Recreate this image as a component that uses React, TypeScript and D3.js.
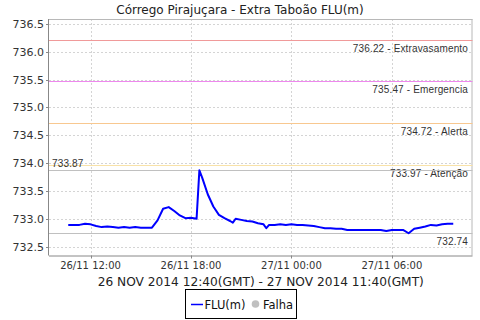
import React from "react";
import * as d3 from "d3";

const title = "Córrego Pirajuçara - Extra Taboão FLU(m)";
const xAxisTitle = "26 NOV 2014 12:40(GMT) - 27 NOV 2014 11:40(GMT)";

const times = [
  "2014-11-26T10:40", "2014-11-26T11:00", "2014-11-26T11:20", "2014-11-26T11:40",
  "2014-11-26T12:00", "2014-11-26T12:20", "2014-11-26T12:40", "2014-11-26T13:00",
  "2014-11-26T13:20", "2014-11-26T13:40", "2014-11-26T14:00", "2014-11-26T14:20",
  "2014-11-26T14:40", "2014-11-26T15:00", "2014-11-26T15:20", "2014-11-26T15:40",
  "2014-11-26T16:00", "2014-11-26T16:20", "2014-11-26T16:40", "2014-11-26T17:00",
  "2014-11-26T17:20", "2014-11-26T17:40", "2014-11-26T18:00", "2014-11-26T18:20",
  "2014-11-26T18:30", "2014-11-26T18:40", "2014-11-26T19:00", "2014-11-26T19:20",
  "2014-11-26T19:40", "2014-11-26T20:00", "2014-11-26T20:20", "2014-11-26T20:30",
  "2014-11-26T20:40", "2014-11-26T21:00", "2014-11-26T21:20", "2014-11-26T21:40",
  "2014-11-26T22:00", "2014-11-26T22:20", "2014-11-26T22:30", "2014-11-26T22:40",
  "2014-11-26T23:00", "2014-11-26T23:20", "2014-11-26T23:40", "2014-11-27T00:00",
  "2014-11-27T00:20", "2014-11-27T00:40", "2014-11-27T01:00", "2014-11-27T01:20",
  "2014-11-27T01:40", "2014-11-27T02:00", "2014-11-27T02:20", "2014-11-27T02:40",
  "2014-11-27T03:00", "2014-11-27T03:20", "2014-11-27T03:40", "2014-11-27T04:00",
  "2014-11-27T04:20", "2014-11-27T04:40", "2014-11-27T05:00", "2014-11-27T05:20",
  "2014-11-27T05:40", "2014-11-27T06:00", "2014-11-27T06:20", "2014-11-27T06:40",
  "2014-11-27T07:00", "2014-11-27T07:20", "2014-11-27T07:40", "2014-11-27T08:00",
  "2014-11-27T08:20", "2014-11-27T08:40", "2014-11-27T09:00", "2014-11-27T09:20",
  "2014-11-27T09:40",
];

const levels = [
  732.89, 732.89, 732.89, 732.91,
  732.90, 732.87, 732.85, 732.86,
  732.85, 732.84, 732.85, 732.84,
  732.85, 732.84, 732.84, 732.84,
  732.97, 733.18, 733.21, 733.14,
  733.06, 733.01, 733.02, 733.00,
  733.87, 733.74, 733.44, 733.22,
  733.07, 733.01, 732.96, 732.93,
  733.00, 732.98, 732.96, 732.95,
  732.92, 732.90, 732.83, 732.89,
  732.89, 732.90, 732.89, 732.90,
  732.89, 732.89, 732.88, 732.87,
  732.85, 732.83, 732.83, 732.82,
  732.82, 732.80, 732.80, 732.80,
  732.80, 732.80, 732.80, 732.80,
  732.78, 732.80, 732.80, 732.80,
  732.74, 732.82, 732.84, 732.86,
  732.89, 732.88, 732.90, 732.91,
  732.91,
];

const thresholdValues = [736.22, 735.47, 734.72, 733.97];
const thresholdNames = ["Extravasamento", "Emergencia", "Alerta", "Atenção"];
const thresholdColors = ["#f09a9a", "#ee88ee", "#f8c890", "#f8e2a8"];

const maxValue = 733.87;
const minValue = 732.74;

const yTicks = [732.5, 733.0, 733.5, 734.0, 734.5, 735.0, 735.5, 736.0, 736.5];
const xTickTimes = ["2014-11-26T12:00", "2014-11-26T18:00", "2014-11-27T00:00", "2014-11-27T06:00"];

const legendLabels = ["FLU(m)", "Falha"];

const W = 480;
const H = 320;
const plotLeft = 49;
const plotRight = 472.5;
const plotTop = 19;
const plotBottom = 255.5;
const FONT = "'DejaVu Sans', sans-serif";
const SMALL = "'Liberation Sans', sans-serif";

export default function App() {
  const parse = d3.utcParse("%Y-%m-%dT%H:%M");
  const data = times.map((t, i) => ({ t: parse(t) as Date, v: levels[i] }));
  const ext = d3.extent(data, (d) => d.t) as [Date, Date];
  const span = +ext[1] - +ext[0];
  const x = d3
    .scaleUtc()
    .domain([new Date(+ext[0] - span * 0.05), new Date(+ext[1] + span * 0.05)])
    .range([plotLeft, plotRight]);
  const y = d3.scaleLinear().domain([732.34, 736.59]).range([plotBottom, plotTop]);

  const line = d3
    .line<{ t: Date; v: number }>()
    .x((d) => x(d.t))
    .y((d) => y(d.v));

  const fmt = d3.utcFormat("%d/%m %H:%M");
  const xt = xTickTimes.map((s) => parse(s) as Date);
  const py = (v: number) => Math.round(y(v)) + 0.5;

  return (
    <svg
      width={W}
      height={H}
      style={{ position: "absolute", left: 0, top: 0, background: "#fff" }}
      fontFamily={FONT}
    >
      <rect x={0} y={0} width={W} height={H} fill="#fff" />
      <text x={240} y={14} textAnchor="middle" fontSize={12} fill="#222">
        {title}
      </text>

      {/* grid */}
      {yTicks.map((t) => (
        <line key={"gy" + t} x1={plotLeft} x2={plotRight} y1={py(t)} y2={py(t)} stroke="#d4d4d4" strokeDasharray="2,2" />
      ))}
      {xt.map((t, i) => (
        <line
          key={"gx" + i}
          x1={Math.round(x(t)) + 0.5}
          x2={Math.round(x(t)) + 0.5}
          y1={plotTop}
          y2={plotBottom}
          stroke="#d4d4d4"
          strokeDasharray="2,2"
        />
      ))}

      {/* plot border */}
      <line x1={plotLeft} x2={plotRight} y1={plotTop + 0.5} y2={plotTop + 0.5} stroke="#b8b8b8" />
      <line x1={plotRight - 0.5} x2={plotRight - 0.5} y1={plotTop} y2={plotBottom} stroke="#b8b8b8" />

      {/* thresholds */}
      {thresholdValues.map((v, i) => (
        <g key={"th" + i}>
          <line x1={plotLeft} x2={plotRight} y1={py(v)} y2={py(v)} stroke={thresholdColors[i]} strokeWidth={1} />
          <text x={468} y={y(v) + 12} textAnchor="end" fontSize={10} fontFamily={SMALL} fill="#333" letterSpacing={0.15}>
            {v.toFixed(2) + " - " + thresholdNames[i]}
          </text>
        </g>
      ))}

      {/* max / min lines */}
      <line x1={plotLeft} x2={plotRight} y1={py(maxValue)} y2={py(maxValue)} stroke="#c0c0c0" />
      <text x={52} y={y(maxValue) - 3.5} fontSize={10} fontFamily={SMALL} fill="#333" letterSpacing={0.15}>
        {maxValue.toFixed(2)}
      </text>
      <line x1={plotLeft} x2={plotRight} y1={py(minValue)} y2={py(minValue)} stroke="#c0c0c0" />
      <text x={468} y={y(minValue) + 12} textAnchor="end" fontSize={10} fontFamily={SMALL} fill="#333" letterSpacing={0.15}>
        {minValue.toFixed(2)}
      </text>

      {/* data line */}
      <path d={line(data) || ""} fill="none" stroke="#0000ff" strokeWidth={2} strokeLinejoin="round" />

      {/* axes */}
      <line x1={plotLeft - 0.5} x2={plotLeft - 0.5} y1={plotTop} y2={plotBottom} stroke="#888" />
      <line x1={plotLeft} x2={plotRight} y1={plotBottom + 0.5} y2={plotBottom + 0.5} stroke="#888" />
      {yTicks.map((t) => (
        <g key={"yt" + t}>
          <line x1={plotLeft - 3} x2={plotLeft} y1={py(t)} y2={py(t)} stroke="#888" />
          <text x={44} y={y(t) + 4} textAnchor="end" fontSize={11} fill="#333">
            {t.toFixed(1)}
          </text>
        </g>
      ))}
      {xt.map((t, i) => (
        <g key={"xt" + i}>
          <line x1={Math.round(x(t)) + 0.5} x2={Math.round(x(t)) + 0.5} y1={plotBottom} y2={plotBottom + 3} stroke="#888" />
          <text x={x(t)} y={269} textAnchor="middle" fontSize={10} fill="#333">
            {fmt(t)}
          </text>
        </g>
      ))}
      <text x={(plotLeft + plotRight) / 2} y={286} textAnchor="middle" fontSize={12.2} fill="#222">
        {xAxisTitle}
      </text>

      {/* legend */}
      <rect x={185.5} y={289.5} width={111} height={29} fill="#fff" stroke="#000" />
      <line x1={191} x2={203} y1={304.5} y2={304.5} stroke="#0000ff" strokeWidth={1.5} />
      <text x={204.5} y={309} fontSize={11.5} fill="#111">
        {legendLabels[0]}
      </text>
      <circle cx={255.5} cy={304} r={3.8} fill="#c0c0c0" />
      <text x={263} y={309} fontSize={11.5} fill="#111">
        {legendLabels[1]}
      </text>
    </svg>
  );
}
